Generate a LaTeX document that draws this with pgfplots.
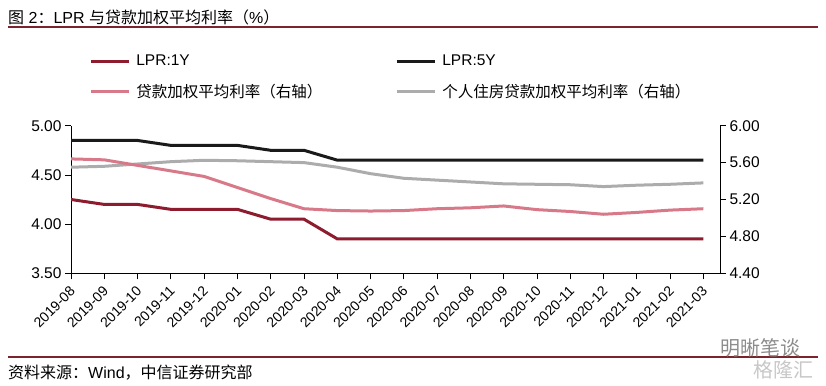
\documentclass[border=0pt]{standalone}
\usepackage{pgfplots}
\pgfplotsset{compat=1.18}
\usepackage{fontspec}
\setmainfont{Liberation Sans}
\newfontfamily\cjk{Noto Sans CJK SC}
\definecolor{lprone}{RGB}{140,28,46}
\definecolor{wavg}{RGB}{216,121,137}
\definecolor{house}{RGB}{172,172,172}
\definecolor{lprfive}{RGB}{26,26,26}
\definecolor{rulec}{RGB}{125,35,45}
\newcommand{\fs}{\fontsize{15.5}{18}\selectfont}
\newcommand{\ft}{\fontsize{16}{19}\selectfont}

\pgfplotstableread{
x lpr1 lpr5 wavg house
0 4.25 4.85 5.64 5.55
1 4.20 4.85 5.63 5.56
2 4.20 4.85 5.57 5.585
3 4.15 4.80 5.51 5.61
4 4.15 4.80 5.45 5.625
5 4.15 4.80 5.33 5.62
6 4.05 4.75 5.21 5.61
7 4.05 4.75 5.10 5.60
8 3.85 4.65 5.08 5.55
9 3.85 4.65 5.075 5.48
10 3.85 4.65 5.08 5.43
11 3.85 4.65 5.10 5.41
12 3.85 4.65 5.11 5.39
13 3.85 4.65 5.13 5.37
14 3.85 4.65 5.09 5.365
15 3.85 4.65 5.07 5.36
16 3.85 4.65 5.04 5.34
17 3.85 4.65 5.06 5.355
18 3.85 4.65 5.085 5.365
19 3.85 4.65 5.10 5.38
}\datatable

\begin{document}
\begin{tikzpicture}
\path (0pt,0pt) rectangle (826pt,-385pt);
\node[anchor=west, inner sep=0] at (8pt,-17pt) {\ft{\cjk 图} 2{\cjk ：}LPR {\cjk 与贷款加权平均利率（}\%{\cjk ）}};
\draw[rulec, line width=1.2pt] (8pt,-27pt) -- (818pt,-27pt);
\draw[rulec, line width=1.2pt] (8pt,-357pt) -- (818pt,-357pt);
\node[anchor=west, inner sep=0] at (8pt,-373pt) {\ft{\cjk 资料来源：}Wind{\cjk ，中信证券研究部}};
\node[anchor=west, inner sep=0, text=black!45] at (720pt,-348pt) {\fontsize{20}{22}\selectfont\cjk 明晰笔谈};
\node[anchor=west, inner sep=0, text=black!22] at (753pt,-370pt) {\fontsize{20}{22}\selectfont\cjk 格隆汇};

\begin{axis}[
  at={(71pt,-273.3pt)}, anchor=south west,
  scale only axis, width=649pt, height=147.6pt,
  xmin=0, xmax=19.5, ymin=3.5, ymax=5.0,
  axis x line*=bottom, axis y line*=left,
  xtick={0,...,19},
  xticklabels={2019-08,2019-09,2019-10,2019-11,2019-12,2020-01,2020-02,2020-03,2020-04,2020-05,2020-06,2020-07,2020-08,2020-09,2020-10,2020-11,2020-12,2021-01,2021-02,2021-03},
  ytick={3.5,4,4.5,5},
  tick align=outside, major tick length=6pt,
  tick style={black, line width=0.8pt},
  axis line style={black, line width=0.8pt},
  /pgf/number format/assume math mode=true,
  yticklabel style={/pgf/number format/.cd, fixed, fixed zerofill, precision=2, /tikz/.cd, font=\fs},
  xticklabel style={font=\fontsize{14}{16}\selectfont, inner sep=2pt, xshift=3pt, yshift=-8pt, rotate=45, anchor=east},
]
\addplot[lprfive, line width=3pt] table[x=x, y=lpr5] {\datatable};
\addplot[lprone, line width=3pt] table[x=x, y=lpr1] {\datatable};
\end{axis}

\begin{axis}[
  at={(71pt,-273.3pt)}, anchor=south west,
  scale only axis, width=649pt, height=147.6pt,
  xmin=0, xmax=19.5, ymin=4.4, ymax=6.0,
  axis x line=none, axis y line*=right,
  ytick={4.4,4.8,5.2,5.6,6.0},
  tick align=outside, major tick length=6pt,
  tick style={black, line width=0.8pt},
  axis line style={black, line width=0.8pt},
  /pgf/number format/assume math mode=true,
  yticklabel style={/pgf/number format/.cd, fixed, fixed zerofill, precision=2, /tikz/.cd, font=\fs},
  legend columns=2,
  legend cell align=left,
  legend image code/.code={\draw[#1] (0pt,0pt) -- (38pt,0pt);},
  legend style={draw=none, fill=none, inner sep=0pt, font=\fs,
    at={(0.028,1.48)}, anchor=north west,
    nodes={inner sep=0pt},
    row sep=17pt,
    /tikz/every odd column/.append style={column sep=6pt},
    /tikz/every even column/.append style={column sep=73pt}},
]
\addlegendimage{lprone, line width=3pt}
\addlegendentry{LPR:1Y}
\addlegendimage{lprfive, line width=3pt}
\addlegendentry{LPR:5Y}
\addlegendimage{wavg, line width=3pt}
\addlegendentry{\cjk 贷款加权平均利率（右轴）}
\addlegendimage{house, line width=3pt}
\addlegendentry{\cjk 个人住房贷款加权平均利率（右轴）}
\addplot[house, line width=3pt, forget plot] table[x=x, y=house] {\datatable};
\addplot[wavg, line width=3pt, forget plot] table[x=x, y=wavg] {\datatable};
\end{axis}
\end{tikzpicture}
\end{document}
